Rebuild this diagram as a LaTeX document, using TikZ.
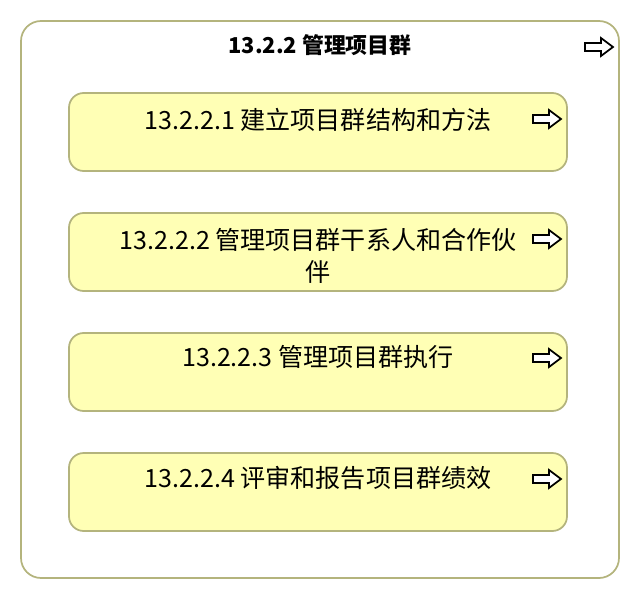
\documentclass[tikz,border=0pt]{standalone}
\usepackage{fontspec}
\setmainfont{Noto Sans CJK SC}
\begin{document}
\begin{tikzpicture}[x=0.75pt,y=-0.75pt,
  bordercol/.style={draw={rgb,255:red,180;green,180;blue,125}, line width=1.3pt},
  outerbox/.style={bordercol, fill=white, rounded corners=15pt},
  procbox/.style={bordercol, fill={rgb,255:red,255;green,255;blue,181}, rounded corners=11pt},
  lbl/.style={font=\fontsize{18.8}{24}\selectfont, inner sep=0pt, align=center, anchor=base},
  ttl/.style={font=\fontsize{16.4}{20}\selectfont\bfseries, inner sep=0pt, anchor=base},
  arrowsym/.style={draw=black, line width=1.3pt, fill=white, line join=miter}
]
\useasboundingbox (0,0) rectangle (640,600);
\newcommand{\blockarrow}[2]{%
  \draw[arrowsym] (#1,#2) ++(0,-4) -- ++(16,0) -- ++(0,-5) -- ++(12,9) -- ++(-12,9) -- ++(0,-5) -- ++(-16,0) -- cycle;}
\draw[outerbox] (21,21) rectangle (619,578);
\node[ttl] (title) at (320,53) {13.2.2 管理项目群};
\blockarrow{585}{47}

\draw[procbox] (69,93) rectangle (567,171);
\node[lbl] (t1) at (318,129) {13.2.2.1 建立项目群结构和方法};
\blockarrow{533}{119}

\draw[procbox] (69,213) rectangle (567,291);
\node[lbl] (t2) at (318,281) {13.2.2.2 管理项目群干系人和合作伙\\伴};
\blockarrow{533}{239}

\draw[procbox] (69,333) rectangle (567,411);
\node[lbl] (t3) at (318,366) {13.2.2.3 管理项目群执行};
\blockarrow{533}{358}

\draw[procbox] (69,453) rectangle (567,531);
\node[lbl] (t4) at (318,487) {13.2.2.4 评审和报告项目群绩效};
\blockarrow{533}{479}
\end{tikzpicture}
\end{document}
